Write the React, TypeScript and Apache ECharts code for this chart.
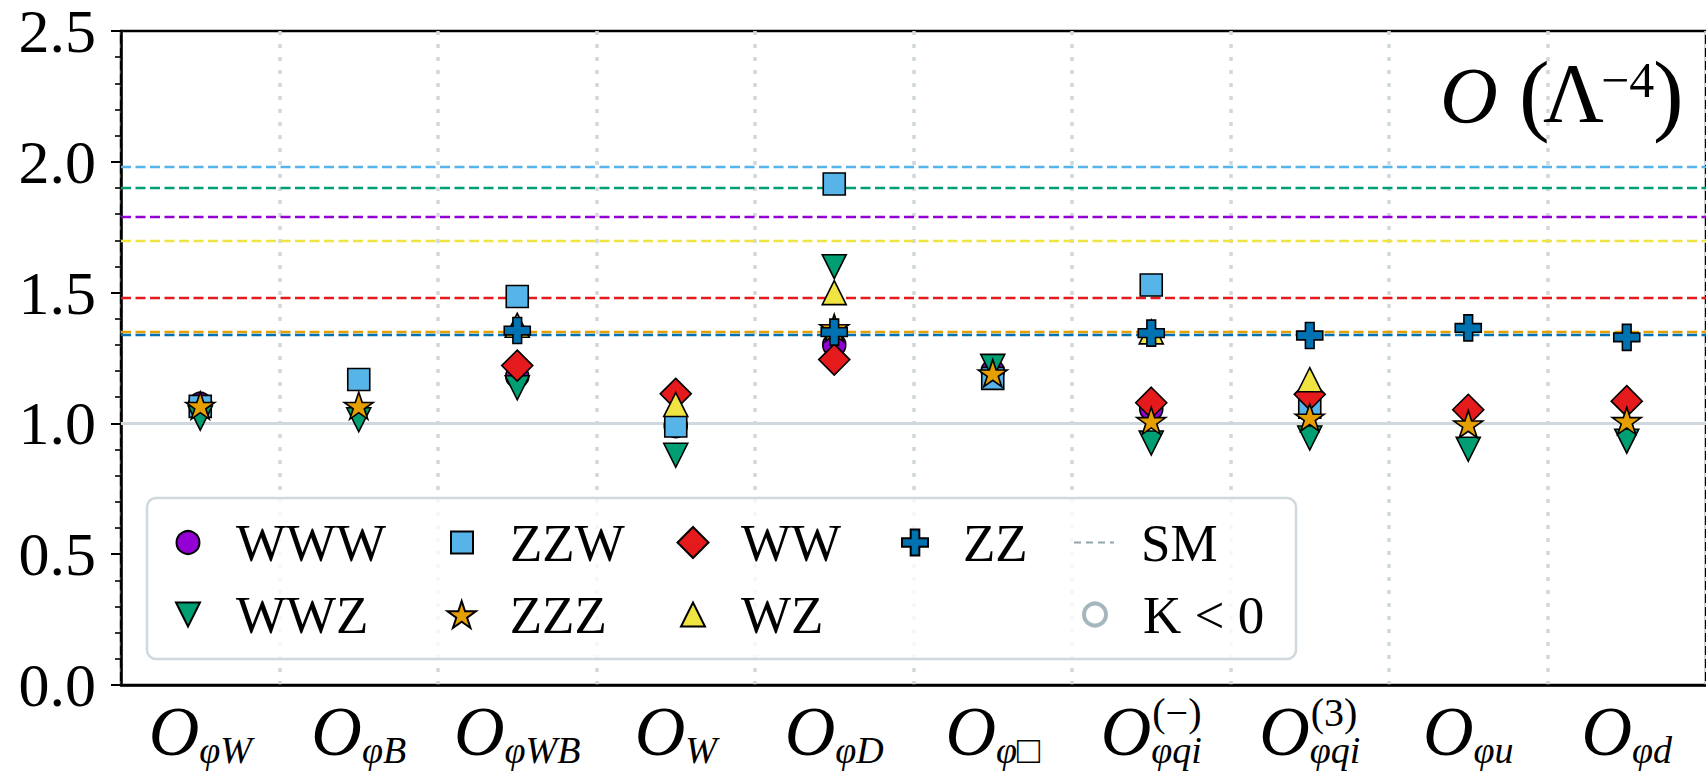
import React, { useEffect, useRef } from "react";
import * as echarts from "echarts";

const FONT = '"Liberation Serif", "DejaVu Serif", serif';

// ---- data ----
const categories = ["O_φW", "O_φB", "O_φWB", "O_W", "O_φD", "O_φ□", "O_φqi^(−)", "O_φqi^(3)", "O_φu", "O_φd"];
const subscripts = ["φW", "φB", "φWB", "W", "φD", "φ□", "φqi", "φqi", "φu", "φd"];
const superscripts = ["", "", "", "", "", "", "(−)", "(3)", "", ""];

const wwwValues = [1.075, null, 1.18, 0.99, 1.3, 1.2, 1.055, null, null, null];
const zzwValues = [1.065, 1.168, 1.485, 0.99, 1.915, 1.172, 1.529, 1.062, null, null];
const wwzValues = [1.02, 1.014, 1.136, 0.878, 1.599, 1.218, 0.925, 0.944, 0.901, 0.932];
const wwValues = [null, null, 1.221, 1.113, 1.244, null, 1.079, 1.111, 1.052, 1.085];
const wzValues = [null, null, 1.375, 1.072, 1.5, null, 1.35, 1.167, null, null];
const zzzValues = [1.063, 1.063, null, null, 1.36, 1.187, 1.005, 1.018, 0.992, 1.005];
const zzValues = [null, null, 1.355, null, 1.349, null, 1.345, 1.336, 1.365, 1.329];

const smWWW = 1.786;
const smWWZ = 1.902;
const smZZW = 1.981;
const smZZZ = 1.355;
const smWW = 1.478;
const smWZ = 1.701;
const smZZ = 1.341;
const referenceLevel = 1.0;

const yMin = 0;
const yMax = 2.5;
const yInterval = 0.5;

const titleText = ["O", "(", "Λ", "−4", ")"];

// ---- styles ----
const STAR = "path://M0,-100L22.45,-30.9L95.1,-30.9L36.3,11.8L58.8,80.9L0,38.2L-58.8,80.9L-36.3,11.8L-95.1,-30.9L-22.45,-30.9Z";
const PLUS = "path://M-1,-3L1,-3L1,-1L3,-1L3,1L1,1L1,3L-1,3L-1,1L-3,1L-3,-1L-1,-1Z";
const TRI_DOWN = "path://M-1,-1L1,-1L0,1Z";

type Def = {
  name: string;
  values: (number | null)[];
  sm: number;
  color: string;
  symbol: string;
  size: number | number[];
  offset?: number[];
  lx: number;
  row: number;
};

const defs: Def[] = [
  { name: "WWW", values: wwwValues, sm: smWWW, color: "#9400D3", symbol: "circle", size: 23, lx: 187, row: 0 },
  { name: "ZZW", values: zzwValues, sm: smZZW, color: "#56B4E9", symbol: "rect", size: 22, lx: 461, row: 0 },
  { name: "WWZ", values: wwzValues, sm: smWWZ, color: "#009E73", symbol: TRI_DOWN, size: 24, lx: 187, row: 1 },
  { name: "WW", values: wwValues, sm: smWW, color: "#E41A1C", symbol: "diamond", size: 31, lx: 692, row: 0 },
  { name: "WZ", values: wzValues, sm: smWZ, color: "#F0E442", symbol: "triangle", size: 24, lx: 692, row: 1 },
  { name: "ZZZ", values: zzzValues, sm: smZZZ, color: "#E69F00", symbol: STAR, size: [29, 27], offset: [0, -1.3], lx: 461, row: 1 },
  { name: "ZZ", values: zzValues, sm: smZZ, color: "#0072B2", symbol: PLUS, size: 26, lx: 914, row: 0 },
];

const rowY = [543, 615];
const TEXT_HALF = 27;
const LEGEND_TEXT_OFFSET = 48;

export default function App() {
  const ref = useRef<HTMLDivElement>(null);

  useEffect(() => {
    const chart = echarts.init(ref.current!, null, { renderer: "svg" });

    const series: any[] = defs.map((d) => ({
      type: "scatter",
      name: d.name,
      data: d.values
        .map((v, i) => (v == null ? null : [categories[i], v]))
        .filter((p) => p != null),
      symbol: d.symbol,
      symbolSize: d.size,
      symbolOffset: d.offset || [0, 0],
      z: 3,
      itemStyle: { color: d.color, borderColor: "#000", borderWidth: 1.6, opacity: 1 },
      emphasis: { disabled: true },
      markLine: {
        silent: true,
        symbol: ["none", "none"],
        z: 1,
        animation: false,
        label: { show: false },
        lineStyle: { color: d.color, type: [10, 4.5], width: 2.3 },
        emphasis: { disabled: true },
        data:
          d.name === "WWW"
            ? [
                { yAxis: referenceLevel, lineStyle: { color: "#CFD8DC", type: "solid", width: 3 } },
                { yAxis: d.sm },
              ]
            : [{ yAxis: d.sm }],
      },
    }));

    series.push({
      type: "line",
      name: "SM",
      data: [],
      symbol: "none",
      lineStyle: { color: "#90A4AE", type: [7, 5], width: 2 },
      itemStyle: { color: "#90A4AE" },
    });
    series.push({
      type: "scatter",
      name: "K < 0",
      data: [],
      symbol: "circle",
      symbolSize: 20,
      itemStyle: { color: "rgba(0,0,0,0)", borderColor: "#90A4AE", borderWidth: 4 },
    });

    const mkLegend = (name: string, cx: number, row: number, w: number, h: number, extra: any = {}) => {
      const gap = LEGEND_TEXT_OFFSET - w / 2 - 5;
      return {
        data: [name],
        left: cx - w / 2,
        top: rowY[row] - TEXT_HALF,
        padding: 0,
        itemWidth: w,
        itemHeight: h,
        selectedMode: false,
        z: 5,
        formatter: (n: string) => `{g| }${n}`,
        textStyle: { fontFamily: FONT, fontSize: 53, color: "#000", rich: { g: { width: gap } } },
        ...extra,
      };
    };

    const legends: any[] = defs.map((d) => {
      const w = Array.isArray(d.size) ? d.size[0] : d.size;
      const h = Array.isArray(d.size) ? d.size[1] : d.size;
      return mkLegend(d.name, d.lx, d.row, w, h);
    });
    legends.push({
      ...mkLegend("SM", 1093, 0, 40, 20),
      left: 1073,
      itemStyle: { color: "rgba(0,0,0,0)", borderWidth: 0, opacity: 0 },
      textStyle: { fontFamily: FONT, fontSize: 53, color: "#000", rich: { g: { width: 1140 - 1113 - 5 } } },
    });
    legends.push(mkLegend("K < 0", 1093, 1, 22, 22, { itemStyle: { borderWidth: 4 } }));

    const option: any = {
      animation: false,
      backgroundColor: "#fff",
      textStyle: { fontFamily: FONT },
      grid: {
        left: 121,
        top: 30,
        width: 1594,
        height: 655,
        show: true,
        borderColor: "#000",
        borderWidth: 2.5,
        backgroundColor: "transparent",
      },
      xAxis: {
        type: "category",
        data: categories,
        boundaryGap: true,
        axisTick: { show: false },
        axisLine: { lineStyle: { color: "#000", width: 2.5 } },
        splitLine: {
          show: true,
          interval: 0,
          lineStyle: { color: "#CFD8DC", width: 3.5, type: [4, 9] },
        },
        axisLabel: {
          interval: 0,
          margin: 14,
          formatter: (_v: string, i: number) => `{o|O}{s|${subscripts[i]}}`,
          rich: {
            o: { fontSize: 70, fontStyle: "italic", fontFamily: FONT, color: "#000", lineHeight: 70, padding: [0, 0, 5, 0] },
            s: { fontSize: 38, fontStyle: "italic", fontFamily: FONT, color: "#000", lineHeight: 38, verticalAlign: "bottom" },
          },
        },
      },
      yAxis: {
        type: "value",
        min: yMin,
        max: yMax,
        interval: yInterval,
        axisLine: { show: true, onZero: false, lineStyle: { color: "#000", width: 2.5 } },
        axisTick: { show: true, length: 10, lineStyle: { color: "#000", width: 2 } },
        minorTick: { show: true, splitNumber: 5, length: 6, lineStyle: { color: "#000", width: 1.6 } },
        splitLine: { show: false },
        axisLabel: {
          margin: 25,
          fontSize: 62,
          fontFamily: FONT,
          color: "#000",
          formatter: (v: number) => v.toFixed(1),
        },
      },
      legend: legends,
      series,
    };

    chart.setOption(option);

    const graphics: any[] = [
      {
        type: "rect",
        id: "legendFrame",
        z: 3,
        shape: { x: 147, y: 498, width: 1149, height: 161, r: 9 },
        style: { fill: "rgba(255,255,255,0.8)", stroke: "#CFD8DC", lineWidth: 2.5 },
        silent: true,
      },
      {
        type: "group",
        id: "title",
        z: 6,
        silent: true,
        children: [
          { type: "text", x: 1440, y: 96, style: { text: titleText[0], fontSize: 80, fontStyle: "italic", fontFamily: FONT, fill: "#000", align: "left", verticalAlign: "middle" } },
          { type: "text", x: 1519, y: 93, style: { text: titleText[1], fontSize: 92, fontFamily: FONT, fill: "#000", align: "left", verticalAlign: "middle" } },
          { type: "text", x: 1543, y: 93, style: { text: titleText[2], fontSize: 84, fontFamily: FONT, fill: "#000", align: "left", verticalAlign: "middle" } },
          { type: "text", x: 1601, y: 80, style: { text: titleText[3], fontSize: 50, fontFamily: FONT, fill: "#000", align: "left", verticalAlign: "middle" } },
          { type: "text", x: 1653, y: 93, style: { text: titleText[4], fontSize: 92, fontFamily: FONT, fill: "#000", align: "left", verticalAlign: "middle" } },
        ],
      },
    ];
    superscripts.forEach((s, i) => {
      if (!s) return;
      const p = chart.convertToPixel({ gridIndex: 0 }, [categories[i], 0]) as number[];
      graphics.push({
        type: "text",
        id: "sup" + i,
        z: 6,
        silent: true,
        x: p[0] + 1,
        y: 692,
        style: { text: s, fontSize: 40, fontFamily: FONT, fill: "#000", align: "left", verticalAlign: "top" },
      });
    });
    chart.setOption({ graphic: { elements: graphics } });

    return () => chart.dispose();
  }, []);

  return (
    <div
      ref={ref}
      style={{ position: "fixed", left: 0, top: 0, width: 1706, height: 778, background: "#fff" }}
    />
  );
}
